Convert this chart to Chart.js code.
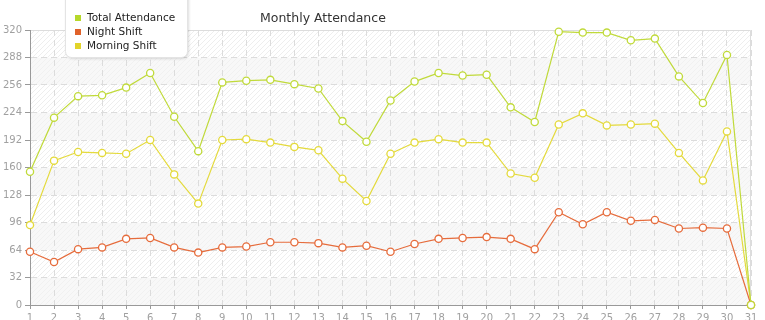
<!DOCTYPE html>
<html>
<head>
<meta charset="utf-8">
<title>Monthly Attendance</title>
<script src="https://cdn.jsdelivr.net/npm/chart.js@4/dist/chart.umd.min.js"></script>
<style>
  html, body { margin: 0; padding: 0; background: #fff; }
  #wrap { width: 765px; height: 320px; }
</style>
</head>
<body>
<div id="wrap"><canvas id="chart"></canvas></div>
<script>
// data
const days = ['1','2','3','4','5','6','7','8','9','10','11','12','13','14','15','16','17','18','19','20','21','22','23','24','25','26','27','28','29','30','31'];
const totalAttendance = [155,218,243,244,253,270,219,179,259,261,262,257,252,214,190,238,260,270,267,268,230,213,318,317,317,308,310,266,235,291,0];
const nightShift = [62,50,65,67,77,78,67,61,67,68,73,73,72,67,69,62,71,77,78,79,77,65,108,94,108,98,99,89,90,89,0];
const morningShift = [93,168,178,177,176,192,152,118,192,193,189,184,180,147,121,176,189,193,189,189,153,148,210,223,209,210,211,177,145,202,0];
const yMin = 0, yMax = 320, yStep = 32;

const FONT = "'DejaVu Sans', Verdana, sans-serif";

// small diagonal hatch tile for the plot background
function hatch(bg, line) {
  const c = document.createElement('canvas');
  c.width = 5; c.height = 5;
  const g = c.getContext('2d');
  g.fillStyle = bg;
  g.fillRect(0, 0, 5, 5);
  g.strokeStyle = line;
  g.lineWidth = 1;
  g.beginPath();
  g.moveTo(-1, 6); g.lineTo(6, -1);
  g.moveTo(-1, 1); g.lineTo(1, -1);
  g.moveTo(4, 6); g.lineTo(6, 4);
  g.stroke();
  return c;
}

const bgPlugin = {
  id: 'bands',
  beforeDraw(chart) {
    const { ctx, chartArea: a, scales: { y } } = chart;
    const white = ctx.createPattern(hatch('#ffffff', '#eeeeee'), 'repeat');
    const grey = ctx.createPattern(hatch('#f8f8f8', '#f1f1f1'), 'repeat');
    ctx.save();
    const ticks = y.ticks;
    for (let k = 0; k < ticks.length - 1; k++) {
      const top = y.getPixelForValue(ticks[k + 1].value);
      const bot = y.getPixelForValue(ticks[k].value);
      ctx.fillStyle = k % 2 === 0 ? grey : white;
      ctx.fillRect(a.left, top, a.right - a.left, bot - top);
    }
    // light frame on top and right
    ctx.strokeStyle = '#dddddd';
    ctx.lineWidth = 1;
    ctx.beginPath();
    ctx.moveTo(a.left, a.top + 0.5);
    ctx.lineTo(a.right - 0.5, a.top + 0.5);
    ctx.lineTo(a.right - 0.5, a.bottom);
    ctx.stroke();
    ctx.restore();
  }
};

// floating legend box + title, drawn on top
const overlayPlugin = {
  id: 'overlay',
  afterDraw(chart) {
    const ctx = chart.ctx;
    ctx.save();
    // title
    ctx.font = '12.5px ' + FONT;
    ctx.fillStyle = '#333333';
    ctx.textBaseline = 'alphabetic';
    ctx.textAlign = 'left';
    ctx.fillText('Monthly Attendance', 260, 22);

    // legend box
    ctx.shadowColor = 'rgba(0,0,0,0.18)';
    ctx.shadowBlur = 3;
    ctx.shadowOffsetX = 1;
    ctx.shadowOffsetY = 1;
    ctx.fillStyle = '#ffffff';
    ctx.beginPath();
    ctx.roundRect(65.5, -10, 122, 67.5, 6);
    ctx.fill();
    ctx.shadowColor = 'transparent';
    ctx.strokeStyle = '#e4e4e4';
    ctx.lineWidth = 1;
    ctx.stroke();

    ctx.font = '10.5px ' + FONT;
    ctx.textBaseline = 'middle';
    chart.data.datasets.forEach((ds, i) => {
      const cy = 18 + i * 14;
      ctx.fillStyle = ds.legendColor;
      ctx.fillRect(75, cy - 3, 6, 6);
      ctx.fillStyle = '#222222';
      ctx.fillText(ds.label, 87, cy + 0.5);
    });
    ctx.restore();
  }
};

function series(label, data, color, legendColor) {
  return {
    label, data, legendColor,
    borderColor: color,
    borderWidth: 1.2,
    pointRadius: 3.6,
    pointHoverRadius: 3.6,
    pointBackgroundColor: '#ffffff',
    pointBorderColor: color,
    pointBorderWidth: 1.3,
    tension: 0,
    fill: false,
    clip: false
  };
}

new Chart(document.getElementById('chart'), {
  type: 'line',
  data: {
    labels: days,
    datasets: [
      series('Total Attendance', totalAttendance, '#c0da3a', '#b6d82a'),
      series('Night Shift', nightShift, '#e66c3c', '#e0622a'),
      series('Morning Shift', morningShift, '#e4da3c', '#e2d42a')
    ]
  },
  options: {
    responsive: true,
    maintainAspectRatio: false,
    animation: false,
    layout: { padding: { top: 30, right: 14, left: 0, bottom: 0 } },
    plugins: {
      legend: { display: false },
      title: { display: false },
      tooltip: { enabled: false }
    },
    scales: {
      x: {
        offset: false,
        afterFit: s => { s.height = 15; },
        grid: { color: '#dcdcdc', tickColor: '#999999', tickLength: 4, lineWidth: 1 },
        border: { color: '#999999', width: 1, dash: [6, 4] },
        ticks: { color: '#a0a0a0', font: { family: FONT, size: 10 }, padding: 3, maxRotation: 0, autoSkip: false }
      },
      y: {
        min: yMin, max: yMax,
        afterFit: s => { s.width = 30; },
        grid: { color: '#dcdcdc', tickColor: '#999999', tickLength: 5, lineWidth: 1 },
        border: { color: '#999999', width: 1, dash: [6, 4] },
        ticks: { stepSize: yStep, color: '#a0a0a0', font: { family: FONT, size: 10 }, padding: 3 }
      }
    }
  },
  plugins: [bgPlugin, overlayPlugin]
});
</script>
</body>
</html>
